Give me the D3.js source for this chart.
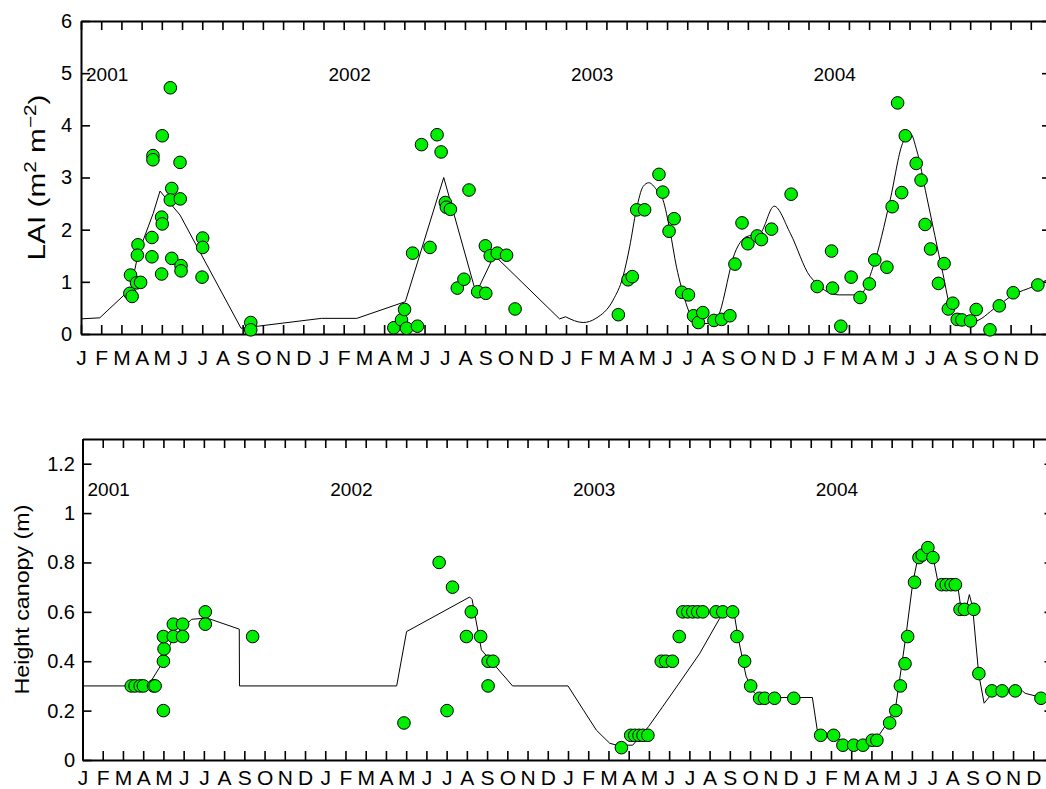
<!DOCTYPE html>
<html><head><meta charset="utf-8">
<script src="https://cdn.jsdelivr.net/npm/d3@7"></script>
<style>
body{margin:0;background:#fff}
svg{display:block;background:#fff}
text{font-family:"Liberation Sans",Arial,Helvetica,sans-serif;fill:#000}
</style>
</head><body>
<svg id="chart" width="1046" height="789"></svg>
<script>
// ---------- data ----------
const monthLetters = ["J","F","M","A","M","J","J","A","S","O","N","D"];
const years = ["2001","2002","2003","2004"];
const laiTicks = [0,1,2,3,4,5,6];
const heightTicks = [0,0.2,0.4,0.6,0.8,1,1.2];

// x values: months since 1 Jan 2001
const laiModelLinear = [
  [0,0.29],[0.93,0.31],[2.5,0.88],[2.59,1.1],[2.83,1.54],[3.08,1.8],[3.57,2.31],[3.91,2.74],
  [4.9,2.28],[7.92,0.11],[11.9,0.30],[13.65,0.30],[16.05,0.62],[17.95,3.0],[19.55,0.78],
  [20.45,1.51],[23.68,0.29],[23.98,0.33]
];
const laiModelSmooth = [
  [23.98,0.33],[24.85,0.22],[25.48,0.30],[26.33,0.65],[26.82,1.1],[27.15,1.67],[27.48,2.38],
  [27.82,2.83],[28.1,2.9],[28.49,2.76],[28.8,2.57],[29.14,1.99],[29.47,1.28],[29.7,0.91],
  [30.3,0.27],[30.6,0.2],[31.4,0.2],[31.6,0.4],[32.35,1.55],[32.9,1.86],[33.6,1.93],
  [34.3,2.45],[35.1,1.93],[36.07,1.11],[37.52,0.75],[38.54,0.75],[39.2,1.29],[40.04,2.57],
  [40.65,3.65],[41.05,3.84],[41.35,3.53],[41.85,2.63],[42.65,1.16],[43.05,0.46],[43.45,0.27],
  [44.15,0.24],[45.3,0.52],[46.13,0.75],[47.12,0.91],[47.77,1.03],[48,1.06]
];
const laiObs = [
  [2.42,0.78],[2.53,0.72],[2.45,1.13],[2.82,1.71],[2.79,1.51],[2.75,0.98],[2.95,0.99],[3.51,1.85],
  [3.51,1.48],[3.56,3.42],[3.56,3.34],[4.02,3.8],[3.99,2.24],[4.02,2.11],[3.99,1.15],[4.42,4.72],
  [4.49,2.79],[4.42,2.57],[4.49,1.45],[4.9,3.29],[4.91,2.59],[4.95,1.31],[4.95,1.21],[6.02,1.84],
  [6.02,1.66],[5.99,1.09],[8.4,0.22],[8.4,0.08],
  [15.48,0.12],[15.86,0.27],[16.01,0.47],[16.11,0.11],[16.65,0.15],[16.41,1.55],[16.85,3.63],
  [17.27,1.66],[17.62,3.82],[17.82,3.49],[18.03,2.52],[18.08,2.43],[18.28,2.39],[18.62,0.88],
  [18.95,1.05],[19.2,2.76],[19.63,0.81],[20.03,0.78],[20.01,1.69],[20.25,1.5],[20.6,1.55],
  [21.06,1.51],[21.48,0.48],
  [26.59,0.37],[27.07,1.04],[27.28,1.1],[27.5,2.38],[27.89,2.38],[28.6,3.06],[28.79,2.72],
  [29.35,2.21],[29.1,1.97],[29.73,0.8],[30.06,0.75],[30.31,0.35],[30.55,0.22],[30.77,0.41],
  [31.32,0.26],[31.7,0.28],[32.11,0.35],[32.36,1.34],[32.71,2.13],[33.0,1.73],[33.46,1.88],
  [33.67,1.81],[34.17,2.01],[35.14,2.68],
  [36.43,0.91],[37.14,1.59],[37.19,0.88],[37.6,0.15],[38.11,1.09],[38.55,0.7],[39.01,0.96],
  [39.28,1.42],[39.88,1.28],[40.14,2.44],[40.41,4.43],[40.61,2.71],[40.79,3.8],[41.33,3.27],
  [41.57,2.95],[41.77,2.1],[42.04,1.63],[42.71,1.35],[42.43,0.97],[42.92,0.48],[43.14,0.59],
  [43.36,0.28],[43.59,0.27],[44.02,0.25],[44.3,0.47],[44.98,0.08],[45.44,0.54],[46.13,0.79],
  [47.35,0.94]
];

const heightModel = [
  [0,0.30],[3.24,0.30],[4.0,0.40],[4.5,0.5],[5.4,0.57],[6.15,0.575],[7.75,0.53],[7.76,0.30],
  [15.53,0.30],[16.02,0.52],[19.14,0.66],[19.26,0.65],[19.72,0.446],[21.26,0.30],
  [24.0,0.30],[24.78,0.2],[25.41,0.12],[26.06,0.068],[26.4,0.06],[27.2,0.06],[27.98,0.135],
  [28.68,0.216],[29.4,0.30],[30.5,0.43],[31.5,0.574],[32.0,0.6],[32.2,0.6],[32.4,0.5],
  [32.8,0.34],[33.15,0.277],[33.5,0.253],[36.08,0.253],[36.36,0.10],[37.2,0.09],[38.0,0.065],
  [38.6,0.065],[39.2,0.08],[39.7,0.14],[40.2,0.216],[40.7,0.5],[41.04,0.716],[41.3,0.82],
  [41.8,0.84],[42.05,0.82],[42.3,0.716],[43.26,0.71],[43.43,0.61],[43.7,0.62],[43.84,0.67],
  [44.0,0.62],[44.3,0.35],[44.57,0.23],[44.9,0.263],[45.15,0.28],[46.46,0.28],[46.6,0.27],
  [47.56,0.25],[48,0.25]
];
const heightObs = [
  [2.41,0.3],[2.6,0.3],[2.85,0.3],[3.01,0.3],[3.51,0.3],[3.59,0.3],[4.0,0.2],[4.0,0.4],[4.03,0.45],
  [4.0,0.5],[4.49,0.55],[4.49,0.5],[4.95,0.55],[4.95,0.5],[6.07,0.6],[6.07,0.55],[8.41,0.5],
  [15.89,0.15],[17.63,0.8],[18.02,0.2],[18.29,0.7],[19.22,0.6],[18.98,0.5],[19.68,0.5],[20.05,0.4],
  [20.29,0.4],[20.05,0.3],
  [26.64,0.05],[27.1,0.1],[27.3,0.1],[27.51,0.1],[27.71,0.1],[27.95,0.1],[28.61,0.4],[28.83,0.4],
  [29.16,0.4],[29.5,0.5],[29.68,0.6],[29.92,0.6],[30.17,0.6],[30.41,0.6],[30.66,0.6],[31.32,0.6],
  [31.65,0.6],[32.14,0.6],[32.35,0.5],[32.73,0.4],[33.03,0.3],[33.47,0.25],[33.72,0.25],
  [34.21,0.25],[35.16,0.25],
  [36.49,0.1],[37.13,0.1],[37.59,0.06],[38.12,0.06],[38.58,0.06],[39.04,0.08],[39.27,0.08],
  [39.9,0.15],[40.2,0.2],[40.43,0.3],[40.66,0.39],[40.79,0.5],[41.13,0.72],[41.35,0.82],
  [41.51,0.83],[41.79,0.86],[42.04,0.82],[42.47,0.71],[42.7,0.71],[42.94,0.71],[43.15,0.71],
  [43.38,0.61],[43.6,0.61],[44.06,0.61],[44.31,0.35],[44.95,0.28],[45.46,0.28],[46.11,0.28],
  [47.38,0.25]
];

// ---------- drawing ----------
const svg = d3.select("#chart");
const GREEN = "#00ee00";
const FONT = '"Liberation Sans",Arial,Helvetica,sans-serif';

function drawPanel(o) {
  const x = d3.scaleLinear().domain([0,48]).range([o.x0,o.x1]);
  const y = d3.scaleLinear().domain([0,o.ymax]).range([o.yb,o.yt]);
  const g = svg.append("g");
  const monthIdx = d3.range(0,48);

  const styleAxis = (sel, fs) => {
    sel.select(".domain").attr("stroke","#000").attr("stroke-width",2);
    sel.selectAll(".tick line").attr("stroke","#000").attr("stroke-width",1.6);
    sel.selectAll(".tick text").attr("fill","#000").style("font-size", fs+"px")
       .style("font-family",FONT);
  };

  g.append("g").attr("transform",`translate(0,${o.yb})`)
    .call(d3.axisBottom(x).tickValues(monthIdx).tickSizeInner(-9).tickSizeOuter(0)
      .tickPadding(o.xPad).tickFormat(i => monthLetters[i%12]))
    .call(styleAxis, o.monthFont);
  g.append("g").attr("transform",`translate(0,${o.yt})`)
    .call(d3.axisTop(x).tickValues(monthIdx).tickSizeInner(-9).tickSizeOuter(0).tickFormat(""))
    .call(styleAxis, o.tickFont);
  g.append("g").attr("transform",`translate(${o.x0},0)`)
    .call(d3.axisLeft(y).tickValues(o.ticks).tickSizeInner(-9).tickSizeOuter(0)
      .tickPadding(o.yPad).tickFormat(d => String(d)))
    .call(styleAxis, o.tickFont);
  g.append("g").attr("transform",`translate(${o.x1},0)`)
    .call(d3.axisRight(y).tickValues(o.ticks).tickSizeInner(-9).tickSizeOuter(0).tickFormat(""))
    .call(styleAxis, o.tickFont);

  // year labels
  g.selectAll("text.year").data(years).enter().append("text")
    .attr("class","year")
    .attr("x",(d,i)=>x(12*i+0.25))
    .attr("y",y(o.yearVal)+o.yearDy)
    .style("font-size",o.yearFont+"px")
    .text(d=>d);

  // y label, stretched along its length to the reference extent
  const lab = g.append("text")
    .attr("text-anchor","middle")
    .style("font-size",o.labFont+"px");
  o.label(lab);
  const w = lab.node().getComputedTextLength() || o.labLen;
  lab.attr("transform",`translate(${o.labX},${(o.yt+o.yb)/2}) rotate(-90) scale(${o.labLen/w},1)`);

  const line = d3.line().x(d=>x(d[0])).y(d=>y(d[1]));
  o.lines.forEach(L => {
    g.append("path")
      .attr("d", line.curve(L.curve)(L.data))
      .attr("fill","none").attr("stroke","#000").attr("stroke-width",1);
  });

  g.selectAll("circle").data(o.obs).enter().append("circle")
    .attr("cx",d=>x(d[0])).attr("cy",d=>y(d[1])).attr("r",6.3)
    .attr("fill",GREEN).attr("stroke","#000").attr("stroke-width",1);
}

drawPanel({
  x0:81, x1:1051, yt:21, yb:334, ymax:6, ticks:laiTicks,
  tickFont:20, monthFont:21, xPad:16, yPad:9,
  yearVal:5, yearDy:8, yearFont:19,
  labX:45, labFont:23, labLen:166,
  label: t => {
    t.append("tspan").text("LAI (m");
    t.append("tspan").attr("dy",-9).style("font-size","16px").text("2");
    t.append("tspan").attr("dy",9).text(" m");
    t.append("tspan").attr("dy",-9).style("font-size","16px").text("\u22122");
    t.append("tspan").attr("dy",9).text(")");
  },
  lines:[{data:laiModelLinear,curve:d3.curveLinear},{data:laiModelSmooth,curve:d3.curveMonotoneX}],
  obs:laiObs
});

drawPanel({
  x0:82.5, x1:1053.5, yt:439, yb:760, ymax:1.3, ticks:heightTicks,
  tickFont:20, monthFont:21, xPad:10, yPad:7.5,
  yearVal:1.1, yearDy:7.5, yearFont:19,
  labX:29, labFont:21, labLen:190,
  label: t => { t.text("Height canopy (m)"); },
  lines:[{data:heightModel,curve:d3.curveLinear}],
  obs:heightObs
});
</script>
</body></html>
